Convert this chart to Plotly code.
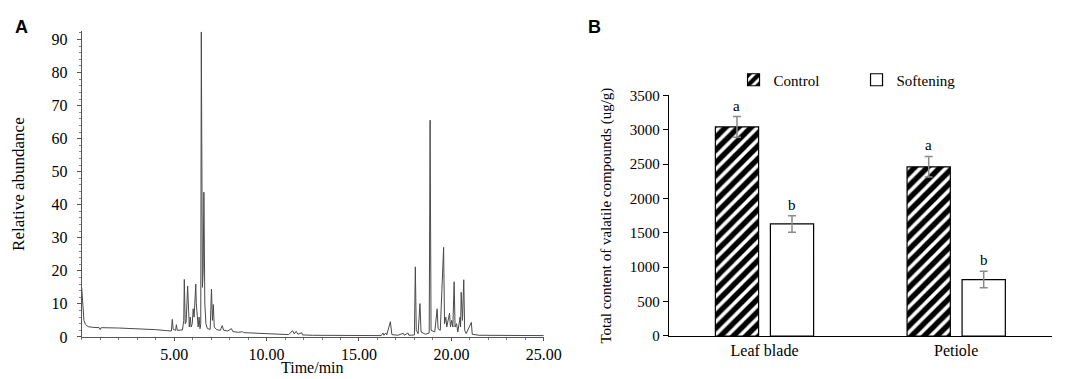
import plotly.graph_objects as go

# ---------------- Panel A: chromatogram ----------------
rt_min = [0.00, 0.05, 0.12, 0.20, 0.35, 0.60, 0.95, 1.00, 1.05, 2.00, 3.00, 4.00, 4.60,
          4.85, 4.90, 4.95, 5.08, 5.12, 5.17, 5.45, 5.52, 5.55, 5.60, 5.65, 5.73, 5.78,
          5.82, 5.87, 5.92, 5.98, 6.03, 6.08, 6.17, 6.20, 6.25, 6.30, 6.35, 6.40, 6.44,
          6.47, 6.53, 6.57, 6.61, 6.66, 6.72, 6.80, 6.95, 7.02, 7.07, 7.12, 7.17, 7.30,
          7.50, 7.60, 7.68, 7.90, 8.10, 8.18, 8.50, 8.70, 8.75, 9.50, 10.50, 11.20, 11.40,
          11.50, 11.60, 11.70, 11.90, 11.95, 12.50, 13.50, 14.50, 15.50, 16.20, 16.30,
          16.35, 16.45, 16.50, 16.70, 16.78, 17.10, 17.40, 17.45, 17.65, 17.70, 18.00,
          18.05, 18.10, 18.20, 18.30, 18.36, 18.60, 18.80, 18.85, 18.90, 19.10, 19.23,
          19.28, 19.40, 19.58, 19.63, 19.70, 19.75, 19.90, 19.95, 20.02, 20.08, 20.15,
          20.20, 20.28, 20.35, 20.47, 20.50, 20.53, 20.60, 20.67, 20.72, 20.80, 21.08,
          21.13, 21.50, 22.50, 23.50, 24.50, 25.00]
abundance = [14.8, 9.0, 5.0, 3.8, 3.1, 2.9, 2.8, 2.2, 2.8, 2.7, 2.5, 2.2, 1.9,
             1.8, 5.3, 2.3, 2.0, 3.7, 2.0, 2.1, 5.0, 17.4, 4.0, 4.5, 15.4, 5.0,
             3.0, 6.0, 3.0, 4.0, 8.5, 6.0, 16.0, 10.0, 5.0, 3.0, 6.0, 2.5, 4.0,
             92.3, 15.0, 20.0, 43.8, 10.0, 4.0, 2.5, 2.3, 14.5, 5.0, 9.8, 3.0, 2.2,
             2.0, 3.4, 2.0, 1.8, 2.5, 1.6, 1.4, 1.6, 1.3, 1.1, 0.9, 0.7, 1.9,
             0.9, 1.7, 0.8, 1.3, 0.6, 0.5, 0.5, 0.5, 0.4, 0.4, 1.2,
             0.5, 1.2, 0.6, 4.6, 0.7, 0.5, 1.1, 0.5, 1.2, 0.5, 0.6,
             21.2, 2.0, 1.0, 10.1, 1.5, 0.8, 1.2, 65.6, 2.0, 1.5, 8.5,
             2.5, 2.0, 27.1, 4.0, 6.0, 3.0, 7.2, 3.0, 5.0, 3.0, 16.7,
             3.0, 4.0, 1.5, 6.0, 3.0, 13.5, 5.0, 17.3, 2.0, 1.0, 4.4,
             0.8, 0.5, 0.5, 0.4, 0.4, 0.4]

a_xtick_vals = [5, 10, 15, 20, 25]
a_xtick_text = ["5.00", "10.00", "15.00", "20.00", "25.00"]
a_ytick_vals = [0, 10, 20, 30, 40, 50, 60, 70, 80, 90]

# ---------------- Panel B: total volatile content ----------------
tissues = ["Leaf blade", "Petiole"]
control = [3040, 2460]
control_err = [150, 150]
softening = [1630, 820]
softening_err = [120, 120]
control_letters = ["a", "a"]
softening_letters = ["b", "b"]
b_ytick_vals = [0, 500, 1000, 1500, 2000, 2500, 3000, 3500]

SERIF = "Liberation Serif, Times New Roman, serif"
SANS = "Liberation Sans, Arial, sans-serif"

fig = go.Figure()

fig.add_trace(go.Scatter(
    x=rt_min, y=abundance, mode="lines",
    line=dict(color="#4a4a4a", width=1),
    xaxis="x", yaxis="y", showlegend=False, hoverinfo="x+y",
))

bargap = 0.426
bargroupgap = 0.214

fig.add_trace(go.Bar(
    x=tissues, y=control, name="Control", xaxis="x2", yaxis="y2",
    marker=dict(color="white", line=dict(color="black", width=1.2),
                pattern=dict(shape="/", fgcolor="black", bgcolor="white", fgopacity=1,
                             size=9, solidity=0.6)),
    error_y=dict(type="data", array=control_err, color="#8a8a8a",
                 thickness=1.5, width=4),
))
fig.add_trace(go.Bar(
    x=tissues, y=softening, name="Softening", xaxis="x2", yaxis="y2",
    marker=dict(color="white", line=dict(color="black", width=1.2)),
    error_y=dict(type="data", array=softening_err, color="#8a8a8a",
                 thickness=1.5, width=4),
))

annotations = []
# significance letters above error bars
for i, t in enumerate(tissues):
    annotations.append(dict(x=t, y=control[i] + control_err[i], xref="x2", yref="y2",
                            text=control_letters[i], showarrow=False, yanchor="bottom",
                            xshift=-28, yshift=1, font=dict(family=SERIF, size=15, color="black")))
    annotations.append(dict(x=t, y=softening[i] + softening_err[i], xref="x2", yref="y2",
                            text=softening_letters[i], showarrow=False, yanchor="bottom",
                            xshift=28, yshift=1, font=dict(family=SERIF, size=15, color="black")))
# panel letters
annotations.append(dict(x=5 / 1065, y=1 - 12 / 379, xref="paper", yref="paper", text="<b>A</b>",
                        showarrow=False, xanchor="left", yanchor="middle",
                        font=dict(family=SANS, size=18, color="black")))
annotations.append(dict(x=588 / 1065, y=1 - 12 / 379, xref="paper", yref="paper", text="<b>B</b>",
                        showarrow=False, xanchor="left", yanchor="middle",
                        font=dict(family=SANS, size=18, color="black")))
# x-axis title of panel A
annotations.append(dict(x=310 / 1065, y=1 - 368 / 379, xref="paper", yref="paper", text="Time/min",
                        showarrow=False, xanchor="center", yanchor="middle",
                        font=dict(family=SERIF, size=16, color="black")))

fig.update_layout(
    width=1065, height=379,
    margin=dict(l=0, r=0, t=0, b=0),
    paper_bgcolor="white", plot_bgcolor="white",
    font=dict(family=SERIF, size=15, color="black"),
    barmode="group", bargap=bargap, bargroupgap=bargroupgap,
    showlegend=True,
    legend=dict(orientation="h", x=738 / 1065, y=1 - 67 / 379, xanchor="left", yanchor="middle",
                font=dict(family=SERIF, size=15, color="black"),
                entrywidth=78, entrywidthmode="pixels", bgcolor="rgba(0,0,0,0)"),
    xaxis=dict(domain=[75 / 1065, 545 / 1065], range=[0, 25], anchor="y",
               tickmode="array", tickvals=a_xtick_vals, ticktext=a_xtick_text,
               showgrid=False, zeroline=False, showline=True, linecolor="#555", linewidth=1,
               ticks="outside", ticklen=3, tickcolor="#555", ticklabelstandoff=0,
               minor=dict(dtick=1, ticks="outside", ticklen=2, tickcolor="#777", showgrid=False),
               tickfont=dict(family=SERIF, size=16)),
    yaxis=dict(domain=[1 - 336 / 379, 1 - 16 / 379], range=[0, 92.5], anchor="x",
               tickmode="array", tickvals=a_ytick_vals,
               showgrid=False, zeroline=False, showline=True, linecolor="#555", linewidth=1,
               ticks="outside", ticklen=4, tickcolor="#555", ticklabelstandoff=6,
               minor=dict(dtick=2, ticks="outside", ticklen=2, tickcolor="#888", showgrid=False),
               tickfont=dict(family=SERIF, size=16),
               title=dict(text="Relative abundance", font=dict(family=SERIF, size=17), standoff=22)),
    xaxis2=dict(domain=[672 / 1065, 1062 / 1065], anchor="y2",
                showgrid=False, zeroline=False, showline=True, linecolor="black", linewidth=1,
                ticks="", tickfont=dict(family=SERIF, size=16)),
    yaxis2=dict(domain=[1 - 335 / 379, 1 - 83 / 379], range=[0, 3500], anchor="x2",
                tickmode="array", tickvals=b_ytick_vals,
                showgrid=False, zeroline=False, showline=True, linecolor="black", linewidth=1,
                ticks="outside", ticklen=5, tickcolor="black",
                tickfont=dict(family=SERIF, size=15),
                title=dict(text="Total content of valatile compounds (ug/g)",
                           font=dict(family=SERIF, size=15), standoff=14)),
    annotations=annotations,
)

fig.write_html("out.html")
